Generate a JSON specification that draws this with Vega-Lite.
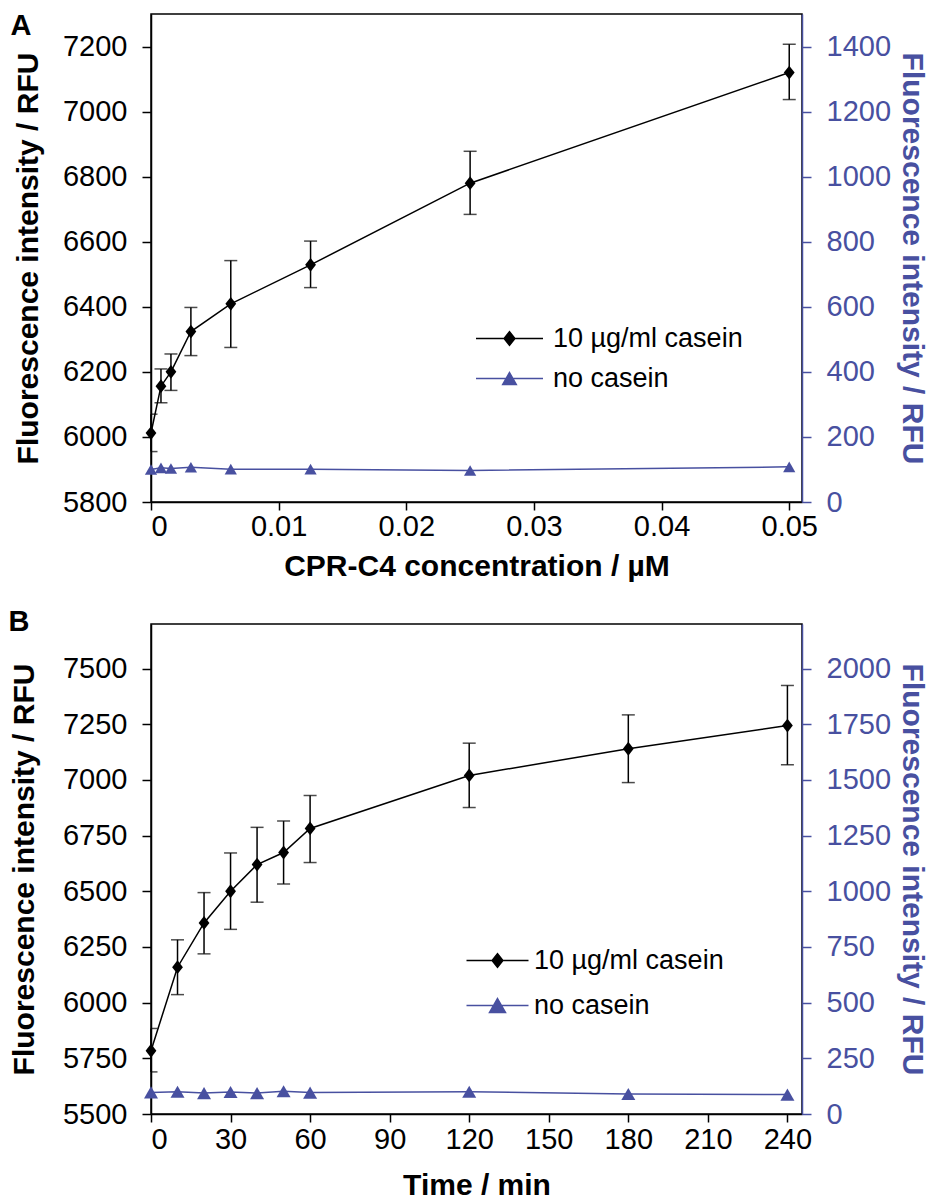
{
  "$schema": "https://vega.github.io/schema/vega-lite/v6.json",
  "padding": {"left": 7, "top": 11, "right": 4, "bottom": 0},
  "background": "white",
  "spacing": 25,
  "config": {
    "view": {"stroke": "black", "strokeWidth": 1.5},
    "font": "Liberation Sans",
    "axis": {
      "grid": false,
      "labelFont": "Liberation Sans",
      "titleFont": "Liberation Sans",
      "labelFontSize": 29,
      "titleFontSize": 30,
      "titleFontWeight": "bold",
      "tickSize": 9,
      "tickWidth": 1.5,
      "domainWidth": 1.5,
      "domainColor": "black",
      "tickColor": "black",
      "labelColor": "black",
      "titleColor": "black",
      "labelPadding": 15,
      "titlePadding": 19
    },
    "axisX": {"labelPadding": 2, "titlePadding": 10, "tickSize": 8}
  },
  "resolve": {"scale": {"color": "independent"}, "legend": {"color": "independent"}},
  "datasets": {
    "a1": [
      {"x": 0, "y": 6012, "lo": 5955, "hi": 6070, "series": "10 µg/ml casein"},
      {"x": 0.00078125, "y": 6156, "lo": 6105, "hi": 6209, "series": "10 µg/ml casein"},
      {"x": 0.0015625, "y": 6200, "lo": 6143, "hi": 6255, "series": "10 µg/ml casein"},
      {"x": 0.003125, "y": 6324, "lo": 6250, "hi": 6398, "series": "10 µg/ml casein"},
      {"x": 0.00625, "y": 6409, "lo": 6275, "hi": 6542, "series": "10 µg/ml casein"},
      {"x": 0.0125, "y": 6529, "lo": 6459, "hi": 6602, "series": "10 µg/ml casein"},
      {"x": 0.025, "y": 6780, "lo": 6684, "hi": 6878, "series": "10 µg/ml casein"},
      {"x": 0.05, "y": 7120, "lo": 7037, "hi": 7207, "series": "10 µg/ml casein"}
    ],
    "a2": [
      {"x": 0, "y": 100, "series": "no casein"},
      {"x": 0.00078125, "y": 105, "series": "no casein"},
      {"x": 0.0015625, "y": 103, "series": "no casein"},
      {"x": 0.003125, "y": 107, "series": "no casein"},
      {"x": 0.00625, "y": 101, "series": "no casein"},
      {"x": 0.0125, "y": 101, "series": "no casein"},
      {"x": 0.025, "y": 97, "series": "no casein"},
      {"x": 0.05, "y": 108, "series": "no casein"}
    ],
    "b1": [
      {"x": 0, "y": 5784, "lo": 5689, "hi": 5884, "series": "10 µg/ml casein"},
      {"x": 10, "y": 6159, "lo": 6036, "hi": 6282, "series": "10 µg/ml casein"},
      {"x": 20, "y": 6358, "lo": 6219, "hi": 6494, "series": "10 µg/ml casein"},
      {"x": 30, "y": 6500, "lo": 6329, "hi": 6672, "series": "10 µg/ml casein"},
      {"x": 40, "y": 6620, "lo": 6451, "hi": 6787, "series": "10 µg/ml casein"},
      {"x": 50, "y": 6674, "lo": 6533, "hi": 6815, "series": "10 µg/ml casein"},
      {"x": 60, "y": 6782, "lo": 6629, "hi": 6930, "series": "10 µg/ml casein"},
      {"x": 120, "y": 7020, "lo": 6876, "hi": 7165, "series": "10 µg/ml casein"},
      {"x": 180, "y": 7140, "lo": 6988, "hi": 7292, "series": "10 µg/ml casein"},
      {"x": 240, "y": 7244, "lo": 7068, "hi": 7424, "series": "10 µg/ml casein"}
    ],
    "b2": [
      {"x": 0, "y": 97, "series": "no casein"},
      {"x": 10, "y": 100, "series": "no casein"},
      {"x": 20, "y": 94, "series": "no casein"},
      {"x": 30, "y": 99, "series": "no casein"},
      {"x": 40, "y": 94, "series": "no casein"},
      {"x": 50, "y": 102, "series": "no casein"},
      {"x": 60, "y": 96, "series": "no casein"},
      {"x": 120, "y": 100, "series": "no casein"},
      {"x": 180, "y": 90, "series": "no casein"},
      {"x": 240, "y": 87, "series": "no casein"}
    ]
  },
  "vconcat": [
    {
      "width": 651,
      "height": 488,
      "title": {"text": "A", "anchor": "start", "frame": "bounds", "orient": "top", "offset": -27, "baseline": "top", "fontSize": 29, "fontWeight": "bold", "font": "Liberation Sans", "dx": -3},
      "resolve": {"scale": {"y": "independent"}, "axis": {"y": "independent"}},
      "layer": [
        {
          "layer": [
            {
              "data": {"name": "a1"},
              "mark": {"type": "rule", "strokeWidth": 1.5, "color": "black"},
              "encoding": {
                "x": {"field": "x", "type": "quantitative", "scale": {"domain": [0, 0.051], "nice": false, "zero": false},
                      "axis": {"values": [0, 0.01, 0.02, 0.03, 0.04, 0.05], "format": "~g", "title": "CPR-C4 concentration / µM"}},
                "y": {"field": "lo", "type": "quantitative", "scale": {"domain": [5800, 7300], "nice": false, "zero": false},
                      "axis": {"orient": "left", "values": [5800, 6000, 6200, 6400, 6600, 6800, 7000, 7200], "format": "d", "title": "Fluorescence intensity / RFU"}},
                "y2": {"field": "hi"}
              }
            },
            {
              "data": {"name": "a1"},
              "mark": {"type": "tick", "orient": "horizontal", "size": 13, "thickness": 1.5, "color": "black", "clip": true},
              "encoding": {"x": {"field": "x", "type": "quantitative"}, "y": {"field": "lo", "type": "quantitative"}}
            },
            {
              "data": {"name": "a1"},
              "mark": {"type": "tick", "orient": "horizontal", "size": 13, "thickness": 1.5, "color": "black", "clip": true},
              "encoding": {"x": {"field": "x", "type": "quantitative"}, "y": {"field": "hi", "type": "quantitative"}}
            },
            {
              "data": {"name": "a1"},
              "mark": {"type": "line", "strokeWidth": 1.5},
              "encoding": {
                "x": {"field": "x", "type": "quantitative"},
                "y": {"field": "y", "type": "quantitative"},
                "color": {"field": "series", "type": "nominal",
                  "scale": {"domain": ["10 µg/ml casein", "no casein"], "range": ["black", "#4850a0"]},
                  "legend": {
                    "title": null, "orient": "none", "legendX": 345, "legendY": 311, "padding": 0,
                    "labelFontSize": 27, "labelFont": "Liberation Sans", "labelColor": "black", "labelLimit": 600,
                    "symbolSize": 400, "labelOffset": 30, "rowPadding": 12, "symbolStrokeWidth": 1.5,
                    "encode": {"symbols": {"update": {
                      "shape": {"signal": "datum.value === 'no casein' ? 'M-3.35,0H3.35M0,-0.6L0.68,0.6L-0.68,0.6Z' : 'M-3.35,0H3.35M0,-0.69L0.54,0L0,0.69L-0.54,0Z'"},
                      "fill": {"signal": "datum.value === 'no casein' ? '#4850a0' : 'black'"},
                      "stroke": {"signal": "datum.value === 'no casein' ? '#4850a0' : 'black'"},
                      "strokeWidth": {"value": 1.5},
                      "size": {"value": 400},
                      "opacity": {"value": 1}
                    }}}
                  }
                }
              }
            },
            {
              "data": {"name": "a1"},
              "mark": {"type": "point", "filled": true, "opacity": 1, "color": "black", "shape": "M0,-1.15L0.9,0L0,1.15L-0.9,0Z", "size": 144},
              "encoding": {"x": {"field": "x", "type": "quantitative"}, "y": {"field": "y", "type": "quantitative"}}
            }
          ]
        },
        {
          "layer": [
            {
              "data": {"name": "a2"},
              "mark": {"type": "line", "strokeWidth": 1.5},
              "encoding": {
                "x": {"field": "x", "type": "quantitative"},
                "y": {"field": "y", "type": "quantitative", "scale": {"domain": [0, 1500], "nice": false},
                      "axis": {"orient": "right", "values": [0, 200, 400, 600, 800, 1000, 1200, 1400], "format": "d", "title": "Fluorescence intensity / RFU", "titlePadding": 6,
                               "domainColor": "#4850a0", "tickColor": "#4850a0", "labelColor": "#4850a0", "titleColor": "#4850a0"}},
                "color": {"field": "series", "type": "nominal"}
              }
            },
            {
              "data": {"name": "a2"},
              "mark": {"type": "point", "filled": true, "opacity": 1, "color": "#4850a0", "shape": "triangle-up", "size": 150},
              "encoding": {"x": {"field": "x", "type": "quantitative"}, "y": {"field": "y", "type": "quantitative"}}
            }
          ]
        }
      ]
    },
    {
      "width": 651,
      "height": 490,
      "title": {"text": "B", "anchor": "start", "frame": "bounds", "orient": "top", "offset": -13, "baseline": "top", "fontSize": 29, "fontWeight": "bold", "font": "Liberation Sans", "dx": -1},
      "resolve": {"scale": {"y": "independent"}, "axis": {"y": "independent"}},
      "layer": [
        {
          "layer": [
            {
              "data": {"name": "b1"},
              "mark": {"type": "rule", "strokeWidth": 1.5, "color": "black"},
              "encoding": {
                "x": {"field": "x", "type": "quantitative", "scale": {"domain": [0, 245.5], "nice": false, "zero": false},
                      "axis": {"values": [0, 30, 60, 90, 120, 150, 180, 210, 240], "format": "d", "title": "Time / min", "labelPadding": 3, "titlePadding": 16}},
                "y": {"field": "lo", "type": "quantitative", "scale": {"domain": [5500, 7700], "nice": false, "zero": false},
                      "axis": {"orient": "left", "values": [5500, 5750, 6000, 6250, 6500, 6750, 7000, 7250, 7500], "format": "d", "title": "Fluorescence intensity / RFU", "titlePadding": 23}},
                "y2": {"field": "hi"}
              }
            },
            {
              "data": {"name": "b1"},
              "mark": {"type": "tick", "orient": "horizontal", "size": 13, "thickness": 1.5, "color": "black", "clip": true},
              "encoding": {"x": {"field": "x", "type": "quantitative"}, "y": {"field": "lo", "type": "quantitative"}}
            },
            {
              "data": {"name": "b1"},
              "mark": {"type": "tick", "orient": "horizontal", "size": 13, "thickness": 1.5, "color": "black", "clip": true},
              "encoding": {"x": {"field": "x", "type": "quantitative"}, "y": {"field": "hi", "type": "quantitative"}}
            },
            {
              "data": {"name": "b1"},
              "mark": {"type": "line", "strokeWidth": 1.5},
              "encoding": {
                "x": {"field": "x", "type": "quantitative"},
                "y": {"field": "y", "type": "quantitative"},
                "color": {"field": "series", "type": "nominal",
                  "scale": {"domain": ["10 µg/ml casein", "no casein"], "range": ["black", "#4850a0"]},
                  "legend": {
                    "title": null, "orient": "none", "legendX": 333, "legendY": 323, "padding": 0,
                    "labelFontSize": 27, "labelFont": "Liberation Sans", "labelColor": "black", "labelLimit": 600,
                    "symbolSize": 400, "labelOffset": 23, "rowPadding": 17, "symbolStrokeWidth": 1.5,
                    "encode": {"symbols": {"update": {
                      "shape": {"signal": "datum.value === 'no casein' ? 'M-3.1,0H3.1M0,-0.7L0.8,0.7L-0.8,0.7Z' : 'M-3.1,0H3.1M0,-0.69L0.54,0L0,0.69L-0.54,0Z'"},
                      "fill": {"signal": "datum.value === 'no casein' ? '#4850a0' : 'black'"},
                      "stroke": {"signal": "datum.value === 'no casein' ? '#4850a0' : 'black'"},
                      "strokeWidth": {"value": 1.5},
                      "size": {"value": 400},
                      "opacity": {"value": 1}
                    }}}
                  }
                }
              }
            },
            {
              "data": {"name": "b1"},
              "mark": {"type": "point", "filled": true, "opacity": 1, "color": "black", "shape": "M0,-1.15L0.9,0L0,1.15L-0.9,0Z", "size": 144},
              "encoding": {"x": {"field": "x", "type": "quantitative"}, "y": {"field": "y", "type": "quantitative"}}
            }
          ]
        },
        {
          "layer": [
            {
              "data": {"name": "b2"},
              "mark": {"type": "line", "strokeWidth": 1.5},
              "encoding": {
                "x": {"field": "x", "type": "quantitative"},
                "y": {"field": "y", "type": "quantitative", "scale": {"domain": [0, 2200], "nice": false},
                      "axis": {"orient": "right", "values": [0, 250, 500, 750, 1000, 1250, 1500, 1750, 2000], "format": "d", "title": "Fluorescence intensity / RFU", "titlePadding": 6,
                               "domainColor": "#4850a0", "tickColor": "#4850a0", "labelColor": "#4850a0", "titleColor": "#4850a0"}},
                "color": {"field": "series", "type": "nominal"}
              }
            },
            {
              "data": {"name": "b2"},
              "mark": {"type": "point", "filled": true, "opacity": 1, "color": "#4850a0", "shape": "triangle-up", "size": 196},
              "encoding": {"x": {"field": "x", "type": "quantitative"}, "y": {"field": "y", "type": "quantitative"}}
            }
          ]
        }
      ]
    }
  ]
}
